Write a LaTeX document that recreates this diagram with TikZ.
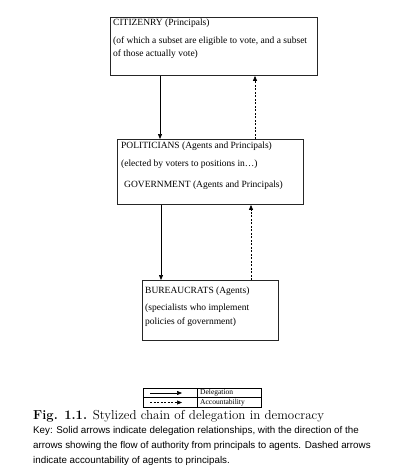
\documentclass[tikz,border=0pt]{standalone}
\usepackage{fontspec}
\setmainfont{Liberation Serif}
\newfontfamily\capfont{Latin Modern Roman}
\newfontfamily\keyfont{Liberation Sans}
\usetikzlibrary{arrows.meta}
\begin{document}
\begin{tikzpicture}[x=1pt,y=-1pt,
  box/.style={draw=black!85,line width=0.9pt,inner sep=0pt,anchor=north west},
  txt/.style={anchor=west,inner sep=0pt,font=\fontsize{9.5}{11}\selectfont},
  deleg/.style={line width=0.7pt,-{Triangle[width=4pt,length=5pt]}},
  acct/.style={line width=0.7pt,dash pattern=on 2pt off 1.5pt,-{Triangle[width=4pt,length=5pt]}},
  legtxt/.style={anchor=west,inner sep=0pt,font=\fontsize{7.5}{9}\selectfont},
  keytxt/.style={anchor=west,inner sep=0pt,font=\keyfont\fontsize{9.8}{11}\selectfont}]
\useasboundingbox (0,0) rectangle (416,475);
\fill[white] (0,0) rectangle (416,475);
% boxes
\node[box,minimum width=207pt,minimum height=58pt] (cit) at (110,17) {};
\node[box,minimum width=186pt,minimum height=65pt] (pol) at (117,139) {};
\node[box,minimum width=136pt,minimum height=60pt] (bur) at (142,280) {};
% texts
\node[txt] (c1) at (113,23) {CITIZENRY (Principals)};
\node[txt] (c2) at (113,41) {(of which a subset are eligible to vote, and a subset};
\node[txt] (c3) at (113,54) {of those actually vote)};
\node[txt] (p1) at (121,146) {POLITICIANS (Agents and Principals)};
\node[txt] (p2) at (121,164) {(elected by voters to positions in\ldots)};
\node[txt] (p3) at (124,185) {GOVERNMENT (Agents and Principals)};
\node[txt] (b1) at (145,291) {BUREAUCRATS (Agents)};
\node[txt] (b2) at (145,308) {(specialists who implement};
\node[txt] (b3) at (145,322) {policies of government)};
% connector columns
\coordinate (s1) at (160,0);
\coordinate (d1) at (255,0);
\coordinate (s2) at (161,0);
\coordinate (d2) at (251,0);
\draw[deleg] (cit.south -| s1) -- (pol.north -| s1);
\draw[acct] (pol.north -| d1) -- (cit.south -| d1);
\draw[deleg] (pol.south -| s2) -- (bur.north -| s2);
\draw[acct] (bur.north -| d2) -- (pol.south -| d2);
% legend
\node[box,draw=black,line width=0.6pt,minimum width=118pt,minimum height=19pt] (leg) at (143,388) {};
\draw[line width=0.6pt] (197,388) -- (197,407);
\draw[line width=0.6pt] (143,397.5) -- (261,397.5);
\coordinate (la1) at (150,393);
\coordinate (lb1) at (182,393);
\coordinate (la2) at (150,402.5);
\coordinate (lb2) at (182,402.5);
\draw[deleg,line width=0.6pt] (la1) -- (lb1);
\draw[acct,line width=0.6pt] (la2) -- (lb2);
\node[legtxt] (l1) at (200,392.8) {Delegation};
\node[legtxt] (l2) at (200,402.5) {Accountability};
% caption
\node[anchor=west,inner sep=0pt,font=\capfont\fontsize{13}{15}\selectfont] (cap) at (33,416) {\textbf{Fig. 1.1.} Stylized chain of delegation in democracy};
\node[keytxt] (k1) at (33,431) {Key: Solid arrows indicate delegation relationships, with the direction of the};
\node[keytxt] (k2) at (33,446) {arrows showing the flow of authority from principals to agents. Dashed arrows};
\node[keytxt] (k3) at (33,461) {indicate accountability of agents to principals.};
\end{tikzpicture}
\end{document}
